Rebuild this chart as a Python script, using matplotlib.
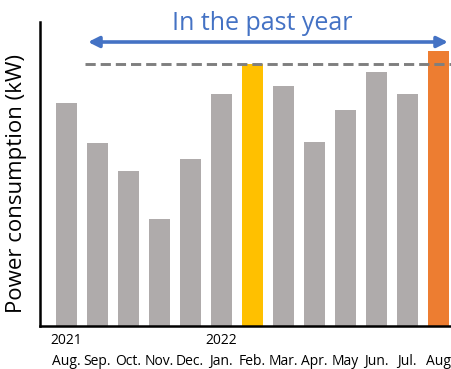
import matplotlib
matplotlib.use("Agg")
import matplotlib.pyplot as plt

plt.rcParams['font.family'] = ['Open Sans', 'DejaVu Sans']

# monthly power consumption, Aug 2021 .. Aug 2022
months = ["Aug.", "Sep.", "Oct.", "Nov.", "Dec.", "Jan.", "Feb.",
          "Mar.", "Apr.", "May", "Jun.", "Jul.", "Aug"]
years = {0: "2021", 5: "2022"}
consumption = [223, 183, 155, 107, 167, 232, 262, 240, 184, 216, 254, 232, 275]
peak_idx = 6      # previous peak (Feb.)
current_idx = 12  # latest month

GRAY = "#AFABAB"
YELLOW = "#FFC000"
ORANGE = "#ED7D31"
BLUE = "#4472C4"

colors = [GRAY] * len(consumption)
colors[peak_idx] = YELLOW
colors[current_idx] = ORANGE

fig = plt.figure(figsize=(4.52, 3.69), dpi=100)
ax = fig.add_axes([40 / 452, 43 / 369, 412 / 452, 304 / 369])

x = list(range(len(consumption)))
ax.bar(x, consumption, width=0.68, color=colors, zorder=2)

ax.set_xlim(-0.84, 12.45)
ax.set_ylim(0, 304)

# reference level = previous peak
ax.plot([0.61, 12.45], [consumption[peak_idx]] * 2, linestyle=(0, (3.5, 1.7)),
        color="#7F7F7F", lw=2.1, zorder=3, clip_on=False)

# "past year" span arrow
ax.annotate("", xy=(12.32, 284), xytext=(0.71, 284),
            arrowprops=dict(arrowstyle="<|-|>", color=BLUE, lw=2.6,
                            mutation_scale=16, shrinkA=0, shrinkB=0),
            annotation_clip=False)
ax.text(6.32, 302, "In the past year", color=BLUE, fontsize=18,
        ha="center", va="center", clip_on=False)

ax.set_xticks(x)
ax.set_xticklabels(months, fontsize=10)
ax.tick_params(axis="x", length=0, pad=20)
ax.set_yticks([])
for i, yr in years.items():
    ax.text(i, -14, yr, fontsize=10, ha="center", va="center")

ax.set_ylabel("Power consumption (kW)", fontsize=16)
ax.yaxis.set_label_coords(-13 / 412, 0.47)

for side in ["top", "right"]:
    ax.spines[side].set_visible(False)
for side in ["left", "bottom"]:
    ax.spines[side].set_linewidth(1.8)

fig.savefig("out.png", dpi=100)
